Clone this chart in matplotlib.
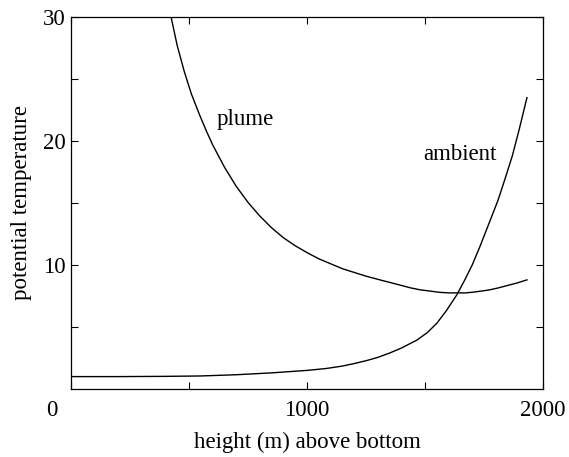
import matplotlib
matplotlib.use("Agg")
import matplotlib.pyplot as plt
import matplotlib.transforms as mtransforms

# Plume potential temperature vs height above bottom
plume_height = [424, 450, 480, 510, 547, 575, 600, 650, 700, 750, 800, 850,
                900, 950, 1000, 1050, 1100, 1150, 1200, 1250, 1309, 1350,
                1400, 1440, 1479, 1520, 1560, 1600, 1635, 1670, 1700, 1740,
                1775, 1810, 1850, 1890, 1932]
plume_temp = [30.0, 27.7, 25.6, 23.8, 22.0, 20.75, 19.7, 17.9, 16.35, 15.05,
              13.95, 13.0, 12.2, 11.55, 11.0, 10.5, 10.1, 9.7, 9.4, 9.1, 8.8,
              8.6, 8.35, 8.15, 8.0, 7.9, 7.8, 7.75, 7.75, 7.75, 7.8, 7.9,
              8.0, 8.15, 8.35, 8.55, 8.8]

# Ambient potential temperature profile
ambient_height = [0, 200, 400, 547, 700, 850, 1000, 1080, 1150, 1200, 1254,
                  1300, 1350, 1400, 1466, 1510, 1550, 1590, 1635, 1670, 1700,
                  1733, 1770, 1809, 1840, 1870, 1900, 1932]
ambient_temp = [1.0, 1.0, 1.02, 1.05, 1.15, 1.3, 1.5, 1.65, 1.85, 2.05, 2.3,
                2.55, 2.9, 3.3, 3.95, 4.55, 5.3, 6.3, 7.6, 8.85, 10.0, 11.5,
                13.3, 15.2, 17.0, 18.8, 21.0, 23.5]

x_ticks = [0, 500, 1000, 1500, 2000]
x_tick_labels = ["0", "", "1000", "", "2000"]
y_ticks = [5, 10, 15, 20, 25, 30]
y_tick_labels = ["", "10", "", "20", "", "30"]

plt.rcParams["font.family"] = ["Liberation Serif", "DejaVu Serif"]
fs = 16.5

fig = plt.figure(figsize=(5.69, 4.57), dpi=100)
ax = fig.add_axes([71 / 569, 1 - 389 / 457, 472 / 569, 372 / 457])

ax.plot(plume_height, plume_temp, color="black", lw=1.0)
ax.plot(ambient_height, ambient_temp, color="black", lw=1.0)

ax.set_xlim(0, 2000)
ax.set_ylim(0, 30)
ax.set_xticks(x_ticks)
ax.set_xticklabels(x_tick_labels, fontsize=fs)
ax.set_yticks(y_ticks)
ax.set_yticklabels(y_tick_labels, fontsize=fs)
ax.tick_params(direction="in", length=5, width=0.8, top=True, right=True,
               pad=8, color="black")
ax.tick_params(axis="y", pad=4)

# move the origin label to sit at the corner
lbl0 = ax.get_xticklabels()[0]
lbl0.set_transform(lbl0.get_transform() +
                   mtransforms.ScaledTranslation(-19 / 100, 0, fig.dpi_scale_trans))

for s in ax.spines.values():
    s.set_linewidth(0.9)

ax.set_xlabel("height (m) above bottom", fontsize=fs, labelpad=8)
ax.set_ylabel("potential temperature", fontsize=fs, labelpad=8)

ax.text(740, 21.7, "plume", fontsize=fs, ha="center", va="center")
ax.text(1650, 18.9, "ambient", fontsize=fs, ha="center", va="center")

fig.savefig("out.png", dpi=100)
